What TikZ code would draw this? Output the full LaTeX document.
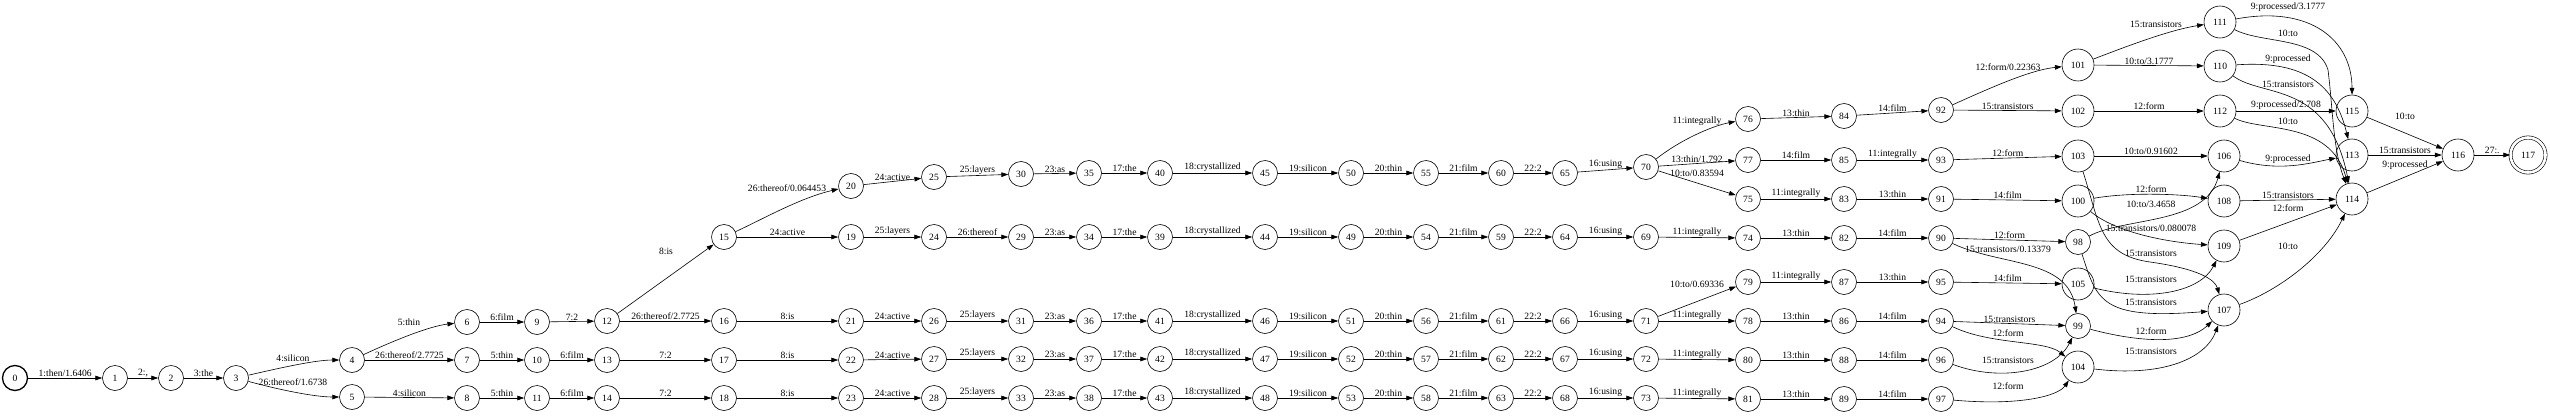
\documentclass[tikz,border=0pt]{standalone}
\usepackage{fontspec}
\setmainfont{Liberation Serif}
\usetikzlibrary{arrows.meta}

\begin{document}
\begin{tikzpicture}[x=1pt, y=-1pt,
          st/.style={circle, draw, line width=0.6pt, minimum size=25pt, inner sep=0pt, font=\fontsize{9.6}{11}\selectfont},
          wst/.style={st, minimum size=32pt},
          init/.style={st, line width=1.3pt},
          fin/.style={st, double, double distance=2.6pt, minimum size=35pt},
          trans/.style={-{Triangle[length=6.8pt, width=4.6pt]}, line width=0.6pt},
          lbl/.style={font=\fontsize{9.6}{11}\selectfont, inner sep=1pt},
          tag/.style={lbl, above},
        ]
          \useasboundingbox (0,0) rectangle (2550,415);

          \node[init] (s0) at (15,378) {0};
          \node[st] (s1) at (115,378) {1};
          \node[st] (s2) at (171,378) {2};
          \node[st] (s3) at (236,378) {3};
          \node[st] (s4) at (352,360) {4};
          \node[st] (s5) at (352,397) {5};
          \node[st] (s6) at (467,322) {6};
          \node[st] (s7) at (467,360) {7};
          \node[st] (s8) at (467,398) {8};
          \node[st] (s9) at (537,322) {9};
          \node[st] (s10) at (537,360) {10};
          \node[st] (s11) at (537,398) {11};
          \node[st] (s12) at (607,321) {12};
          \node[st] (s13) at (607,360) {13};
          \node[st] (s14) at (607,398) {14};
          \node[st] (s15) at (724,237) {15};
          \node[st] (s16) at (724,321) {16};
          \node[st] (s17) at (724,360) {17};
          \node[st] (s18) at (724,398) {18};
          \node[st] (s20) at (851,186) {20};
          \node[st] (s19) at (851,237) {19};
          \node[st] (s21) at (851,321) {21};
          \node[st] (s22) at (851,360) {22};
          \node[st] (s23) at (851,398) {23};
          \node[st] (s25) at (934,177) {25};
          \node[st] (s24) at (934,237) {24};
          \node[st] (s26) at (934,321) {26};
          \node[st] (s27) at (934,359) {27};
          \node[st] (s28) at (934,398) {28};
          \node[st] (s30) at (1021,174) {30};
          \node[st] (s29) at (1021,237) {29};
          \node[st] (s31) at (1021,321) {31};
          \node[st] (s32) at (1021,359) {32};
          \node[st] (s33) at (1021,398) {33};
          \node[st] (s35) at (1089,173) {35};
          \node[st] (s34) at (1089,237) {34};
          \node[st] (s36) at (1089,321) {36};
          \node[st] (s37) at (1089,359) {37};
          \node[st] (s38) at (1089,398) {38};
          \node[st] (s40) at (1160,173) {40};
          \node[st] (s39) at (1160,237) {39};
          \node[st] (s41) at (1160,321) {41};
          \node[st] (s42) at (1160,359) {42};
          \node[st] (s43) at (1160,398) {43};
          \node[st] (s45) at (1265,173) {45};
          \node[st] (s44) at (1265,237) {44};
          \node[st] (s46) at (1265,321) {46};
          \node[st] (s47) at (1265,359) {47};
          \node[st] (s48) at (1265,398) {48};
          \node[st] (s50) at (1351,173) {50};
          \node[st] (s49) at (1351,237) {49};
          \node[st] (s51) at (1351,321) {51};
          \node[st] (s52) at (1351,359) {52};
          \node[st] (s53) at (1351,398) {53};
          \node[st] (s55) at (1426,173) {55};
          \node[st] (s54) at (1426,237) {54};
          \node[st] (s56) at (1426,321) {56};
          \node[st] (s57) at (1426,359) {57};
          \node[st] (s58) at (1426,398) {58};
          \node[st] (s60) at (1501,173) {60};
          \node[st] (s59) at (1501,237) {59};
          \node[st] (s61) at (1501,321) {61};
          \node[st] (s62) at (1501,359) {62};
          \node[st] (s63) at (1501,398) {63};
          \node[st] (s65) at (1565,173) {65};
          \node[st] (s64) at (1565,237) {64};
          \node[st] (s66) at (1565,321) {66};
          \node[st] (s67) at (1565,359) {67};
          \node[st] (s68) at (1565,398) {68};
          \node[st] (s70) at (1646,167) {70};
          \node[st] (s69) at (1646,237) {69};
          \node[st] (s71) at (1646,321) {71};
          \node[st] (s72) at (1646,359) {72};
          \node[st] (s73) at (1646,398) {73};
          \node[st] (s76) at (1748,119) {76};
          \node[st] (s77) at (1748,160) {77};
          \node[st] (s75) at (1748,199) {75};
          \node[st] (s74) at (1748,238) {74};
          \node[st] (s79) at (1748,282) {79};
          \node[st] (s78) at (1748,321) {78};
          \node[st] (s80) at (1748,360) {80};
          \node[st] (s81) at (1748,399) {81};
          \node[st] (s84) at (1844,116) {84};
          \node[st] (s85) at (1844,160) {85};
          \node[st] (s83) at (1844,199) {83};
          \node[st] (s82) at (1844,238) {82};
          \node[st] (s87) at (1844,282) {87};
          \node[st] (s86) at (1844,321) {86};
          \node[st] (s88) at (1844,360) {88};
          \node[st] (s89) at (1844,399) {89};
          \node[st] (s92) at (1941,110) {92};
          \node[st] (s93) at (1941,160) {93};
          \node[st] (s91) at (1941,199) {91};
          \node[st] (s90) at (1941,238) {90};
          \node[st] (s95) at (1941,282) {95};
          \node[st] (s94) at (1941,321) {94};
          \node[st] (s96) at (1941,360) {96};
          \node[st] (s97) at (1941,399) {97};
          \node[wst] (s101) at (2078,65) {101};
          \node[wst] (s102) at (2078,111) {102};
          \node[wst] (s103) at (2078,156) {103};
          \node[wst] (s100) at (2078,201) {100};
          \node[st] (s98) at (2078,242) {98};
          \node[wst] (s105) at (2078,284) {105};
          \node[st] (s99) at (2078,326) {99};
          \node[wst] (s104) at (2078,367) {104};
          \node[wst] (s111) at (2220,22) {111};
          \node[wst] (s110) at (2220,66) {110};
          \node[wst] (s112) at (2220,111) {112};
          \node[wst] (s106) at (2224,156) {106};
          \node[wst] (s108) at (2224,201) {108};
          \node[wst] (s109) at (2224,246) {109};
          \node[wst] (s107) at (2224,310) {107};
          \node[wst] (s115) at (2352,111) {115};
          \node[wst] (s113) at (2352,155) {113};
          \node[wst] (s114) at (2352,199) {114};
          \node[wst] (s116) at (2458,155) {116};
          \node[fin] (s117) at (2528,155) {117};

          \draw[trans] (s0) -- node[tag] {1:then/1.6406} (s1);
          \draw[trans] (s1) -- node[tag] {2:,} (s2);
          \draw[trans] (s2) -- node[tag] {3:the} (s3);
          \draw[trans] (s3) .. controls (280,368) and (315,360) .. (s4) node[lbl] at (293,358) {4:silicon};
          \draw[trans] (s3) .. controls (280,390) and (315,397) .. (s5) node[lbl] at (293,382) {26:thereof/1.6738};
          \draw[trans] (s4) .. controls (395,340) and (430,326) .. (s6) node[lbl] at (409,322) {5:thin};
          \draw[trans] (s4) -- node[tag] {26:thereof/2.7725} (s7);
          \draw[trans] (s5) -- node[tag] {4:silicon} (s8);
          \draw[trans] (s6) -- node[tag] {6:film} (s9);
          \draw[trans] (s7) -- node[tag] {5:thin} (s10);
          \draw[trans] (s8) -- node[tag] {5:thin} (s11);
          \draw[trans] (s9) -- node[tag] {7:2} (s12);
          \draw[trans] (s10) -- node[tag] {6:film} (s13);
          \draw[trans] (s11) -- node[tag] {6:film} (s14);
          \draw[trans] (s12) -- (s15) node[lbl] at (666,251) {8:is};
          \draw[trans] (s12) -- node[tag] {26:thereof/2.7725} (s16);
          \draw[trans] (s13) -- node[tag] {7:2} (s17);
          \draw[trans] (s14) -- node[tag] {7:2} (s18);
          \draw[trans] (s15) .. controls (765,218) and (800,198) .. (s20) node[lbl] at (787,188) {26:thereof/0.064453};
          \draw[trans] (s15) -- node[tag] {24:active} (s19);
          \draw[trans] (s16) -- node[tag] {8:is} (s21);
          \draw[trans] (s17) -- node[tag] {8:is} (s22);
          \draw[trans] (s18) -- node[tag] {8:is} (s23);

          \draw[trans] (s20) -- node[tag] {24:active} (s25);
          \draw[trans] (s25) -- node[tag] {25:layers} (s30);
          \draw[trans] (s30) -- node[tag] {23:as} (s35);
          \draw[trans] (s35) -- node[tag] {17:the} (s40);
          \draw[trans] (s40) -- node[tag] {18:crystallized} (s45);
          \draw[trans] (s45) -- node[tag] {19:silicon} (s50);
          \draw[trans] (s50) -- node[tag] {20:thin} (s55);
          \draw[trans] (s55) -- node[tag] {21:film} (s60);
          \draw[trans] (s60) -- node[tag] {22:2} (s65);
          \draw[trans] (s65) -- node[tag] {16:using} (s70);

          \draw[trans] (s19) -- node[tag] {25:layers} (s24);
          \draw[trans] (s24) -- node[tag] {26:thereof} (s29);
          \draw[trans] (s29) -- node[tag] {23:as} (s34);
          \draw[trans] (s34) -- node[tag] {17:the} (s39);
          \draw[trans] (s39) -- node[tag] {18:crystallized} (s44);
          \draw[trans] (s44) -- node[tag] {19:silicon} (s49);
          \draw[trans] (s49) -- node[tag] {20:thin} (s54);
          \draw[trans] (s54) -- node[tag] {21:film} (s59);
          \draw[trans] (s59) -- node[tag] {22:2} (s64);
          \draw[trans] (s64) -- node[tag] {16:using} (s69);
          \draw[trans] (s69) -- node[tag] {11:integrally} (s74);
          \draw[trans] (s74) -- node[tag] {13:thin} (s82);
          \draw[trans] (s82) -- node[tag] {14:film} (s90);

          \draw[trans] (s21) -- node[tag] {24:active} (s26);
          \draw[trans] (s26) -- node[tag] {25:layers} (s31);
          \draw[trans] (s31) -- node[tag] {23:as} (s36);
          \draw[trans] (s36) -- node[tag] {17:the} (s41);
          \draw[trans] (s41) -- node[tag] {18:crystallized} (s46);
          \draw[trans] (s46) -- node[tag] {19:silicon} (s51);
          \draw[trans] (s51) -- node[tag] {20:thin} (s56);
          \draw[trans] (s56) -- node[tag] {21:film} (s61);
          \draw[trans] (s61) -- node[tag] {22:2} (s66);
          \draw[trans] (s66) -- node[tag] {16:using} (s71);
          \draw[trans] (s71) -- node[tag] {11:integrally} (s78);
          \draw[trans] (s78) -- node[tag] {13:thin} (s86);
          \draw[trans] (s86) -- node[tag] {14:film} (s94);

          \draw[trans] (s22) -- node[tag] {24:active} (s27);
          \draw[trans] (s27) -- node[tag] {25:layers} (s32);
          \draw[trans] (s32) -- node[tag] {23:as} (s37);
          \draw[trans] (s37) -- node[tag] {17:the} (s42);
          \draw[trans] (s42) -- node[tag] {18:crystallized} (s47);
          \draw[trans] (s47) -- node[tag] {19:silicon} (s52);
          \draw[trans] (s52) -- node[tag] {20:thin} (s57);
          \draw[trans] (s57) -- node[tag] {21:film} (s62);
          \draw[trans] (s62) -- node[tag] {22:2} (s67);
          \draw[trans] (s67) -- node[tag] {16:using} (s72);
          \draw[trans] (s72) -- node[tag] {11:integrally} (s80);
          \draw[trans] (s80) -- node[tag] {13:thin} (s88);
          \draw[trans] (s88) -- node[tag] {14:film} (s96);

          \draw[trans] (s23) -- node[tag] {24:active} (s28);
          \draw[trans] (s28) -- node[tag] {25:layers} (s33);
          \draw[trans] (s33) -- node[tag] {23:as} (s38);
          \draw[trans] (s38) -- node[tag] {17:the} (s43);
          \draw[trans] (s43) -- node[tag] {18:crystallized} (s48);
          \draw[trans] (s48) -- node[tag] {19:silicon} (s53);
          \draw[trans] (s53) -- node[tag] {20:thin} (s58);
          \draw[trans] (s58) -- node[tag] {21:film} (s63);
          \draw[trans] (s63) -- node[tag] {22:2} (s68);
          \draw[trans] (s68) -- node[tag] {16:using} (s73);
          \draw[trans] (s73) -- node[tag] {11:integrally} (s81);
          \draw[trans] (s81) -- node[tag] {13:thin} (s89);
          \draw[trans] (s89) -- node[tag] {14:film} (s97);

          \draw[trans] (s70) .. controls (1680,140) and (1712,126) .. (s76) node[lbl] at (1697,121) {11:integrally};
          \draw[trans] (s70) -- node[tag] {13:thin/1.792} (s77);
          \draw[trans] (s70) -- (s75) node[lbl] at (1697,173) {10:to/0.83594};
          \draw[trans] (s71) -- (s79) node[lbl] at (1697,284) {10:to/0.69336};
          \draw[trans] (s76) -- node[tag] {13:thin} (s84);
          \draw[trans] (s84) -- node[tag] {14:film} (s92);
          \draw[trans] (s77) -- node[tag] {14:film} (s85);
          \draw[trans] (s85) -- node[tag] {11:integrally} (s93);
          \draw[trans] (s75) -- node[tag] {11:integrally} (s83);
          \draw[trans] (s83) -- node[tag] {13:thin} (s91);
          \draw[trans] (s79) -- node[tag] {11:integrally} (s87);
          \draw[trans] (s87) -- node[tag] {13:thin} (s95);

          \draw[trans] (s92) .. controls (1990,88) and (2030,70) .. (s101) node[lbl] at (2008,67) {12:form/0.22363};
          \draw[trans] (s92) -- node[tag] {15:transistors} (s102);
          \draw[trans] (s93) -- node[tag] {12:form} (s103);
          \draw[trans] (s91) -- node[tag] {14:film} (s100);
          \draw[trans] (s90) -- node[tag] {12:form} (s98);
          \draw[trans] (s90) .. controls (2000,266) and (2068,258) .. (s99) node[lbl] at (2008,249) {15:transistors/0.13379};
          \draw[trans] (s95) -- node[tag] {14:film} (s105);
          \draw[trans] (s94) -- node[tag] {15:transistors} (s99);
          \draw[trans] (s94) .. controls (1990,345) and (2045,340) .. (s104) node[lbl] at (2008,333) {12:form};
          \draw[trans] (s96) .. controls (2000,382) and (2055,372) .. (s99) node[lbl] at (2008,360) {15:transistors};
          \draw[trans] (s97) .. controls (2020,406) and (2058,396) .. (s104) node[lbl] at (2008,386) {12:form};

          \draw[trans] (s101) .. controls (2130,45) and (2170,30) .. (s111) node[lbl] at (2156,24) {15:transistors};
          \draw[trans] (s101) -- node[tag] {10:to/3.1777} (s110);
          \draw[trans] (s102) -- node[tag] {12:form} (s112);
          \draw[trans] (s103) -- node[tag] {10:to/0.91602} (s106);
          \draw[trans] (s103) .. controls (2100,225) and (2100,255) .. (2150,262) .. controls (2200,269) and (2215,280) .. (s107) node[lbl] at (2151,253) {15:transistors};
          \draw[trans] (s100) .. controls (2130,192) and (2180,194) .. (s108) node[lbl] at (2151,189) {12:form};
          \draw[trans] (s100) .. controls (2115,232) and (2165,242) .. (s109) node[lbl] at (2151,228) {15:transistors/0.080078};
          \draw[trans] (s98) .. controls (2125,217) and (2205,225) .. (s106) node[lbl] at (2151,204) {10:to/3.4658};
          \draw[trans] (s98) .. controls (2097,300) and (2100,320) .. (s107) node[lbl] at (2151,302) {15:transistors};
          \draw[trans] (s105) .. controls (2150,302) and (2200,292) .. (s109) node[lbl] at (2151,279) {15:transistors};
          \draw[trans] (s99) .. controls (2150,345) and (2190,342) .. (s107) node[lbl] at (2151,331) {12:form};
          \draw[trans] (s104) .. controls (2160,377) and (2205,360) .. (s107) node[lbl] at (2151,351) {15:transistors};

          \draw[trans] (s111) .. controls (2310,5) and (2352,40) .. (s115) node[lbl] at (2288,7) {9:processed/3.1777};
          \draw[trans] (s111) .. controls (2262,44) and (2318,36) .. (2328,70) .. controls (2333,110) and (2333,150) .. (s114) node[lbl] at (2288,33) {10:to};
          \draw[trans] (s110) .. controls (2305,60) and (2335,85) .. (s113) node[lbl] at (2288,59) {9:processed};
          \draw[trans] (s110) .. controls (2262,98) and (2328,80) .. (s114) node[lbl] at (2288,84) {15:transistors};
          \draw[trans] (s112) -- node[tag] {9:processed/2.708} (s115);
          \draw[trans] (s112) .. controls (2262,132) and (2330,120) .. (s114) node[lbl] at (2288,121) {10:to};
          \draw[trans] (s106) .. controls (2280,172) and (2310,163) .. (s113) node[lbl] at (2288,159) {9:processed};
          \draw[trans] (s108) -- node[tag] {15:transistors} (s114);
          \draw[trans] (s109) -- (s114) node[lbl] at (2288,208) {12:form};
          \draw[trans] (s107) .. controls (2280,290) and (2325,255) .. (s114) node[lbl] at (2288,246) {10:to};

          \draw[trans] (s115) -- (s116) node[lbl] at (2405,116) {10:to};
          \draw[trans] (s113) -- node[tag] {15:transistors} (s116);
          \draw[trans] (s114) -- (s116) node[lbl] at (2405,165) {9:processed};
          \draw[trans] (s116) -- node[tag] {27:.} (s117);
        \end{tikzpicture}
\end{document}
